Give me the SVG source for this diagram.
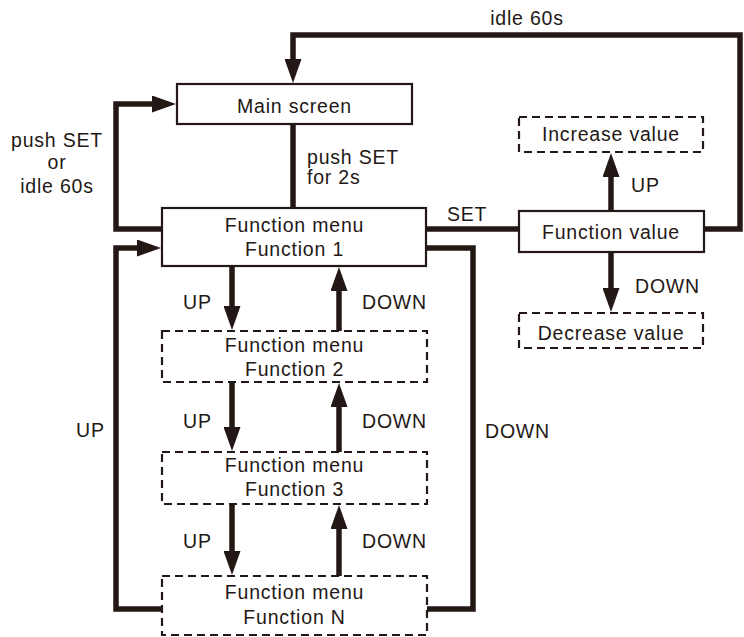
<svg xmlns="http://www.w3.org/2000/svg" width="744" height="637" viewBox="0 0 744 637">
<style>
text{font-family:"Liberation Sans",Arial,sans-serif;font-size:19.5px;letter-spacing:0.8px;fill:#231815}
.c{text-anchor:middle}
.box{fill:#fff;stroke:#231815;stroke-width:2.2}
.dash{fill:#fff;stroke:#231815;stroke-width:2.2;stroke-dasharray:8 5}
.con{fill:none;stroke:#231815;stroke-width:5.5;stroke-linejoin:miter;stroke-linecap:butt}
</style>
<defs>
<marker id="ah" markerUnits="userSpaceOnUse" markerWidth="24" markerHeight="17" viewBox="0 0 24 17" refX="1" refY="8.5" orient="auto">
<path d="M0,0 L24,8.5 L0,17 Z" fill="#231815"/>
</marker>
</defs>
<rect width="744" height="637" fill="#fff"/>
<g id="connectors">
<path class="con" d="M704,229 H740 V35 H293 V60" marker-end="url(#ah)"/>
<path class="con" d="M293,124 V208"/>
<path class="con" d="M162,229 H116 V104 H153" marker-end="url(#ah)"/>
<path class="con" d="M162,609 H116 V248 H138" marker-end="url(#ah)"/>
<path class="con" d="M427,609 H473 V248 H425"/>
<path class="con" d="M425,229 H519"/>
<path class="con" d="M232,266 V307" marker-end="url(#ah)"/>
<path class="con" d="M232,382 V428" marker-end="url(#ah)"/>
<path class="con" d="M232,504 V552" marker-end="url(#ah)"/>
<path class="con" d="M339,331 V290" marker-end="url(#ah)"/>
<path class="con" d="M339,452 V406" marker-end="url(#ah)"/>
<path class="con" d="M339,576 V528" marker-end="url(#ah)"/>
<path class="con" d="M611,211 V176" marker-end="url(#ah)"/>
<path class="con" d="M611,252 V289" marker-end="url(#ah)"/>
</g>
<g id="labels">
<text class="c" x="527" y="25">idle 60s</text>
<text class="c" x="57" y="147">push SET</text>
<text class="c" x="57" y="169">or</text>
<text class="c" x="57" y="193">idle 60s</text>
<text x="307" y="164">push SET</text>
<text x="307" y="184">for 2s</text>
<text x="447" y="221">SET</text>
<text x="631" y="192">UP</text>
<text x="635" y="293">DOWN</text>
<text x="183" y="309">UP</text>
<text x="183" y="428">UP</text>
<text x="183" y="548">UP</text>
<text x="362" y="309">DOWN</text>
<text x="362" y="428">DOWN</text>
<text x="362" y="548">DOWN</text>
<text x="76" y="437">UP</text>
<text x="485" y="438">DOWN</text>
</g>
<g id="main-screen">
<rect class="box" x="177" y="84" width="235" height="40"/>
<text class="c" x="294.5" y="113">Main screen</text>
</g>
<g id="function-1">
<rect class="box" x="162" y="208" width="264" height="58"/>
<text class="c" x="294.5" y="232">Function menu</text>
<text class="c" x="294.5" y="256">Function 1</text>
</g>
<g id="function-2">
<rect class="dash" x="162" y="331" width="265" height="51"/>
<text class="c" x="294.5" y="352">Function menu</text>
<text class="c" x="294.5" y="376">Function 2</text>
</g>
<g id="function-3">
<rect class="dash" x="162" y="452" width="265" height="52"/>
<text class="c" x="294.5" y="472">Function menu</text>
<text class="c" x="294.5" y="496">Function 3</text>
</g>
<g id="function-n">
<rect class="dash" x="162" y="576" width="265" height="59"/>
<text class="c" x="294.5" y="599">Function menu</text>
<text class="c" x="294.5" y="624">Function N</text>
</g>
<g id="function-value">
<rect class="box" x="519" y="211" width="185" height="41"/>
<text class="c" x="611" y="239">Function value</text>
</g>
<g id="increase-value">
<rect class="dash" x="519" y="117" width="184" height="35"/>
<text class="c" x="611" y="141">Increase value</text>
</g>
<g id="decrease-value">
<rect class="dash" x="519" y="313" width="184" height="35"/>
<text class="c" x="611" y="340">Decrease value</text>
</g>
</svg>
